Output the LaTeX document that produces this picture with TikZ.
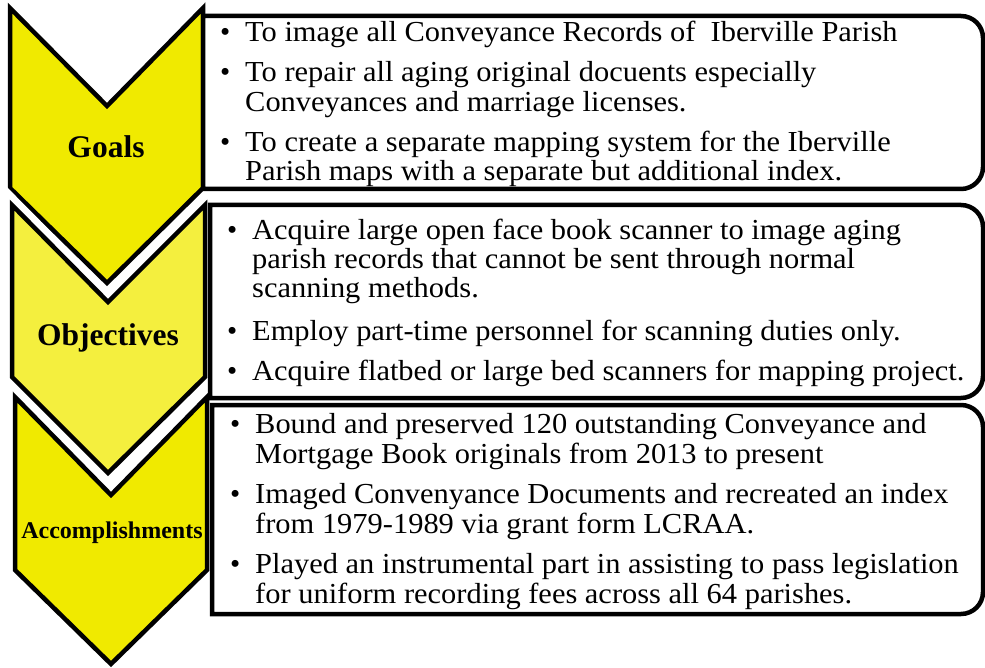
\documentclass[tikz,border=0pt]{standalone}
\usepackage{fontspec}
\usepackage{graphicx}
\setmainfont{Liberation Serif}
\newcommand{\widetext}[1]{\scalebox{1.05}[1]{#1}}
\begin{document}
\begin{tikzpicture}[x=1pt,y=-1pt,
  chevfill/.style={draw=black,line width=4.5pt,line join=miter},
  halo/.style={draw=white,line width=18pt,line join=miter},
  listbox/.style={draw=black,line width=4.5pt,fill=white},
  chevlabel/.style={font=\bfseries\fontsize{31.5}{36}\selectfont,inner sep=0pt},
  smalllabel/.style={font=\bfseries\fontsize{24}{28}\selectfont,inner sep=0pt},
  itemtext/.style={font=\fontsize{29}{30}\selectfont,anchor=base west,inner sep=0pt},
  dot/.style={font=\fontsize{29}{30}\selectfont,anchor=base west,inner sep=0pt}]
\definecolor{chevA}{RGB}{240,234,0}
\definecolor{chevB}{RGB}{244,239,62}
\useasboundingbox (0,0) rectangle (985,668);

% chevrons, each with a white halo behind its outline
\draw[chevfill,fill=chevA] (10,8) -- (107,106) -- (203,8) -- (203,188) -- (107,283) -- (10,188) -- cycle;
\draw[halo] (12,205) -- (108,302) -- (205,205) -- (205,377) -- (108,473) -- (12,377) -- cycle;
\draw[chevfill,fill=chevB] (12,205) -- (108,302) -- (205,205) -- (205,377) -- (108,473) -- (12,377) -- cycle;
\draw[halo] (15,397) -- (111,495) -- (207,397) -- (207,570) -- (111,664) -- (15,570) -- cycle;
\draw[chevfill,fill=chevA] (15,397) -- (111,495) -- (207,397) -- (207,570) -- (111,664) -- (15,570) -- cycle;

\node[chevlabel] (goals) at (106,147) {Goals};
\node[chevlabel] (objectives) at (108,338) {Objectives};
\node[smalllabel] (accomp) at (112,533) {Accomplishments};

% list boxes: square on the left, rounded on the right
\draw[listbox] (203,16) -- (961,16) arc[start angle=-90,end angle=0,radius=22] -- (983,167) arc[start angle=0,end angle=90,radius=22] -- (203,189) -- cycle;
\draw[listbox] (210,205) -- (961,205) arc[start angle=-90,end angle=0,radius=22] -- (983,376) arc[start angle=0,end angle=90,radius=22] -- (210,398) -- cycle;
\draw[listbox] (212,405) -- (961,405) arc[start angle=-90,end angle=0,radius=22] -- (983,592) arc[start angle=0,end angle=90,radius=22] -- (212,614) -- cycle;

% goals
\node[dot] (g1b) at (220,42) {\textbullet};
\node[itemtext] (g1) at (245,42) {\widetext{To image all Conveyance Records of \ Iberville Parish}};
\node[dot] (g2b) at (220,82) {\textbullet};
\node[itemtext] (g2) at (245,82) {\widetext{To repair all aging original docuents especially}};
\node[itemtext] (g2c) at (245,112) {\widetext{Conveyances and marriage licenses.}};
\node[dot] (g3b) at (220,152) {\textbullet};
\node[itemtext] (g3) at (245,152) {\widetext{To create a separate mapping system for the Iberville}};
\node[itemtext] (g3c) at (245,181) {\widetext{Parish maps with a separate but additional index.}};

% objectives
\node[dot] (o1b) at (227,240) {\textbullet};
\node[itemtext] (o1) at (252,240) {\widetext{Acquire large open face book scanner to image aging}};
\node[itemtext] (o1c) at (252,269) {\widetext{parish records that cannot be sent through normal}};
\node[itemtext] (o1d) at (252,298) {\widetext{scanning methods.}};
\node[dot] (o2b) at (227,341) {\textbullet};
\node[itemtext] (o2) at (252,341) {\widetext{Employ part-time personnel for scanning duties only.}};
\node[dot] (o3b) at (227,380) {\textbullet};
\node[itemtext] (o3) at (252,380) {\widetext{Acquire flatbed or large bed scanners for mapping project.}};

% accomplishments
\node[dot] (a1b) at (230,433) {\textbullet};
\node[itemtext] (a1) at (255,433) {\widetext{Bound and preserved 120 outstanding Conveyance and}};
\node[itemtext] (a1c) at (255,463) {\widetext{Mortgage Book originals from 2013 to present}};
\node[dot] (a2b) at (230,503) {\textbullet};
\node[itemtext] (a2) at (255,503) {\widetext{Imaged Convenyance Documents and recreated an index}};
\node[itemtext] (a2c) at (255,533) {\widetext{from 1979-1989 via grant form LCRAA.}};
\node[dot] (a3b) at (230,573) {\textbullet};
\node[itemtext] (a3) at (255,573) {\widetext{Played an instrumental part in assisting to pass legislation}};
\node[itemtext] (a3c) at (255,603) {\widetext{for uniform recording fees across all 64 parishes.}};
\end{tikzpicture}
\end{document}
